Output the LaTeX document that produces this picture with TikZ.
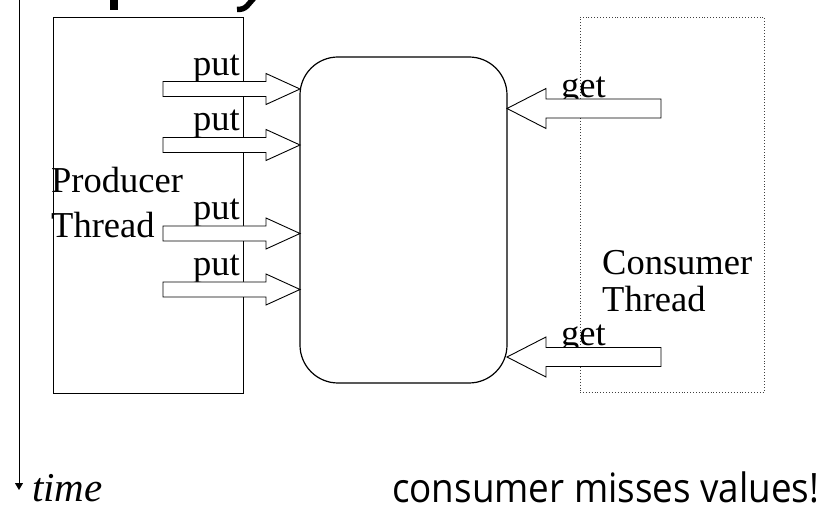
\documentclass[tikz,border=0pt]{standalone}
\usepackage{fontspec}
\setmainfont{Liberation Serif}
\newfontfamily\slidesans{Open Sans}
\usetikzlibrary{arrows.meta}
\tikzset{
  threadbox/.style={draw, line width=0.9pt, inner sep=0pt, outer sep=0pt, rectangle},
  bufbox/.style={draw, line width=1.2pt, rounded corners=38pt, inner sep=0pt, outer sep=0pt, rectangle},
  lbl/.style={font=\fontsize{36.5}{42}\selectfont, inner sep=0pt, anchor=base west},
  blockarrow/.style={draw, fill=white, line width=0.9pt, line join=miter},
}
\begin{document}
\begin{tikzpicture}[x=1pt,y=-1pt]
\useasboundingbox (0,0) rectangle (828,521);
% title fragments (cut off at top)
\fill (110,0) rectangle (117.5,10);
\draw[line width=5.5pt] (254,-2) -- (247,6) .. controls (244,9) and (241,9.5) .. (237,9.5);
% time axis
\coordinate (tstart) at (19,0);
\coordinate (tend) at (19,490);
\draw[line width=0.9pt, -{Triangle[width=8pt,length=7pt]}] (tstart) -- (tend);
\node[font=\fontsize{41}{44}\selectfont\itshape, inner sep=0pt, anchor=base west] (time) at (32,501) {time};
% boxes
\node[threadbox, minimum width=190pt, minimum height=376pt] (prod) at (148,205) {};
\node[threadbox, dotted, draw=black!75, minimum width=184pt, minimum height=375pt] (cons) at (672,204.5) {};
\node[bufbox, minimum width=207pt, minimum height=326pt] (buf) at (403.5,220) {};
% box labels
\node[lbl] (prodA) at (51,193) {Producer};
\node[lbl] (prodB) at (51,238) {Thread};
\node[lbl] (consA) at (602,275) {Consumer};
\node[lbl] (consB) at (602,312) {Thread};
% put labels
\node[lbl] (put1) at (193,75.5) {put};
\node[lbl] (put2) at (193,131) {put};
\node[lbl] (put3) at (193,220) {put};
\node[lbl] (put4) at (193,276) {put};
% get labels
\node[lbl] (get1) at (561,98) {get};
\node[lbl] (get2) at (561,346) {get};
% put arrows (tips on buffer's left side)
\coordinate (pt1) at (300,89);
\coordinate (pt2) at (300,145);
\coordinate (pt3) at (300,233.5);
\coordinate (pt4) at (300,289.5);
\foreach \t in {pt1,pt2,pt3,pt4}{
  \draw[blockarrow] (\t) -- ++(-34,-15.5) -- ++(0,8) -- ++(-103,0) -- ++(0,15) -- ++(103,0) -- ++(0,8) -- cycle;
}
% get arrows (tips on buffer's right side)
\coordinate (gt1) at (507,108.5);
\coordinate (gt2) at (507,357);
\foreach \t in {gt1,gt2}{
  \draw[blockarrow] (\t) -- ++(39,-20) -- ++(0,10.5) -- ++(115,0) -- ++(0,19) -- ++(-115,0) -- ++(0,10.5) -- cycle;
}
% message
\node[font=\slidesans\fontsize{36.8}{40}\selectfont, inner sep=0pt, anchor=base west, yscale=1.1] (msg) at (392,502) {consumer misses values!};
\end{tikzpicture}
\end{document}
